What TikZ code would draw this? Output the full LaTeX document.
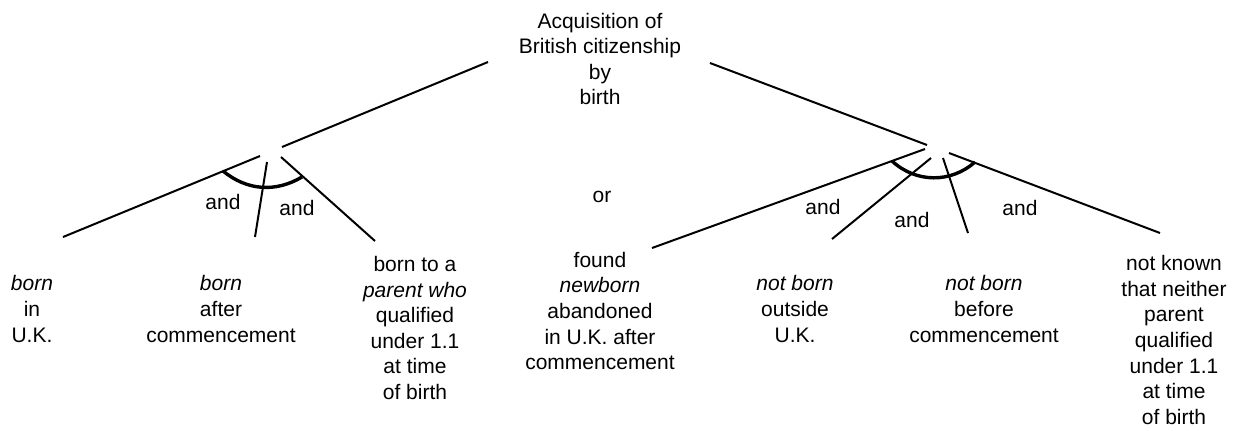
\documentclass[tikz,border=0pt]{standalone}
\usepackage{fontspec}
\setmainfont{Liberation Sans}
\tikzset{
  lbl/.style={align=center, inner sep=0pt, font=\fontsize{10.5}{12.8}\selectfont},
  branch/.style={line width=1pt},
  joint/.style={line width=1.7pt}
}

\begin{document}
\begin{tikzpicture}[x=0.5pt, y=-0.5pt]
\useasboundingbox (0, 0) rectangle (1235, 430);
\node [lbl] (root) at (600, 59) {Acquisition of\\British citizenship\\by\\birth};
\node [lbl] (or) at (602, 197) {or};
\node [lbl] (inuk) at (32, 309) {\textit{born}\\in\\U.K.};
\node [lbl] (after) at (221, 309) {\textit{born}\\after\\commencement};
\node [lbl] (parent) at (415, 328) {born to a\\\textit{parent who}\\qualified\\under 1.1\\at time\\of birth};
\node [lbl] (found) at (600, 311) {found\\\textit{newborn}\\abandoned\\in U.K. after\\commencement};
\node [lbl] (outside) at (795, 309) {\textit{not born}\\outside\\U.K.};
\node [lbl] (before) at (984, 309) {\textit{not born}\\before\\commencement};
\node [lbl] (unknown) at (1174, 340) {not known\\that neither\\parent\\qualified\\under 1.1\\at time\\of birth};
\node [lbl] (andl1) at (223, 202) {and};
\node [lbl] (andl2) at (297, 208) {and};
\node [lbl] (andr1) at (823, 207) {and};
\node [lbl] (andr2) at (912, 220) {and};
\node [lbl] (andr3) at (1020, 208) {and};

\coordinate (rootl) at (488, 62);
\coordinate (rootr) at (710, 63);
\coordinate (forkl) at (282, 147);
\coordinate (forkr) at (927, 145);
\draw [branch] (rootl) -- (forkl);
\draw [branch] (rootr) -- (forkr);

\coordinate (l1a) at (260, 156);
\coordinate (l1b) at (63, 237);
\coordinate (l2a) at (267, 162);
\coordinate (l2b) at (255, 237);
\coordinate (l3a) at (281, 157);
\coordinate (l3b) at (375, 241);
\draw [branch] (l1a) -- (l1b);
\draw [branch] (l2a) -- (l2b);
\draw [branch] (l3a) -- (l3b);
\coordinate (arcl1) at (223, 171);
\coordinate (arcl2) at (302, 177);
\draw [joint] (arcl1) to [bend right=35] (arcl2);

\coordinate (r1a) at (925, 149);
\coordinate (r1b) at (652, 248);
\coordinate (r2a) at (931, 158);
\coordinate (r2b) at (832, 239);
\coordinate (r3a) at (943, 158);
\coordinate (r3b) at (968, 233);
\coordinate (r4a) at (949, 153);
\coordinate (r4b) at (1160, 233);
\draw [branch] (r1a) -- (r1b);
\draw [branch] (r2a) -- (r2b);
\draw [branch] (r3a) -- (r3b);
\draw [branch] (r4a) -- (r4b);
\coordinate (arcr1) at (892, 161);
\coordinate (arcr2) at (975, 162);
\draw [joint] (arcr1) to [bend right=42] (arcr2);
\end{tikzpicture}
\end{document}
